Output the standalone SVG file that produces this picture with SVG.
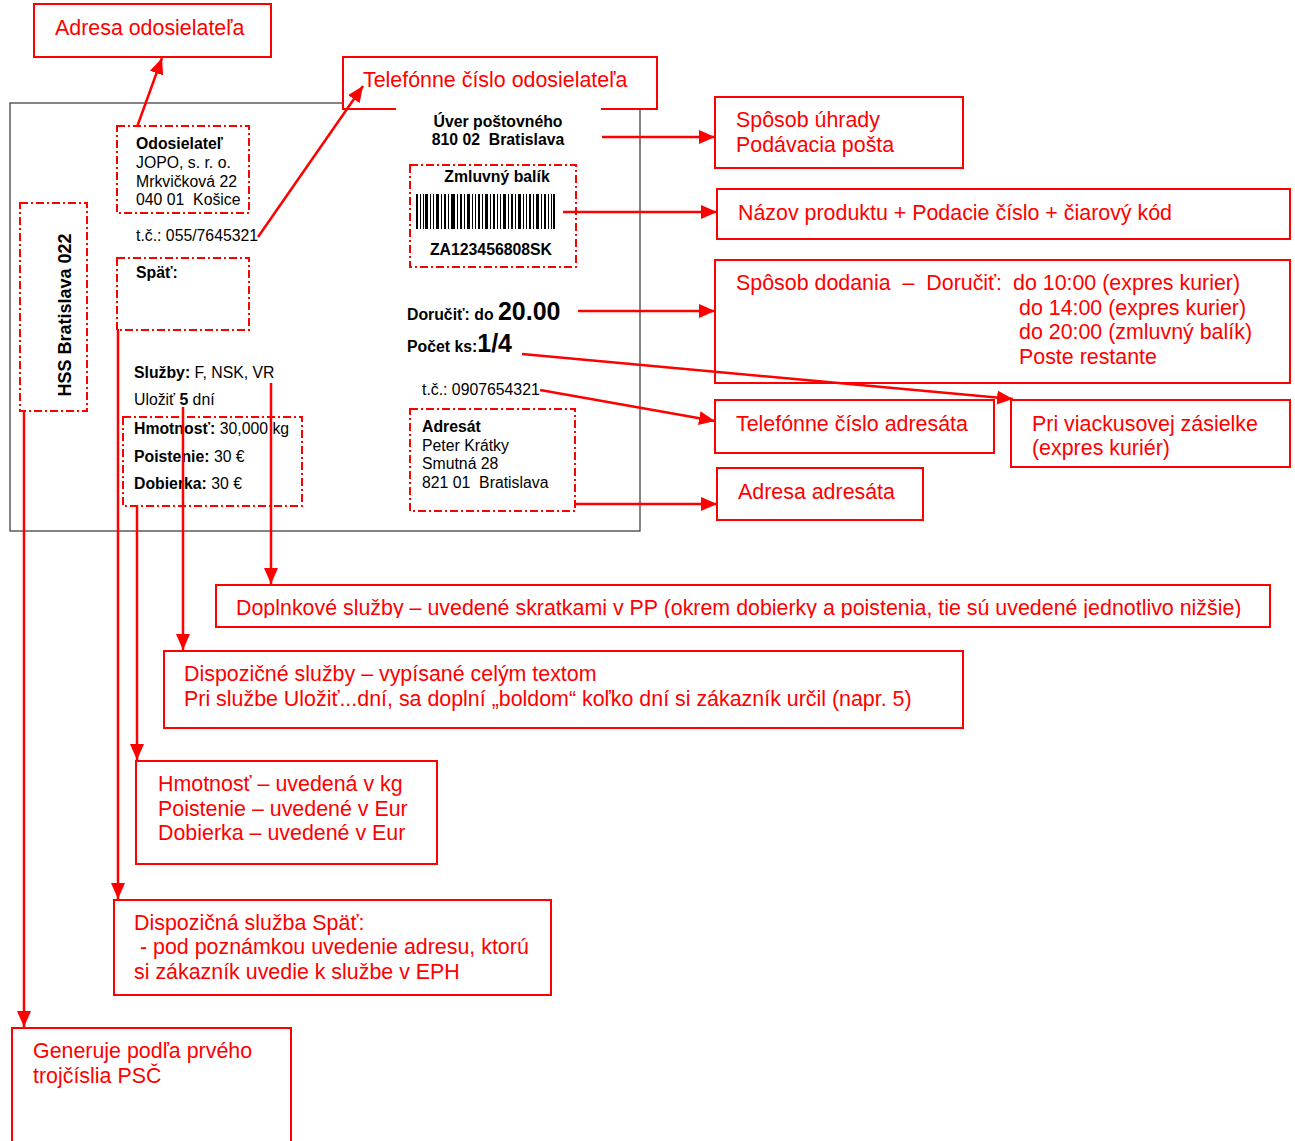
<svg xmlns="http://www.w3.org/2000/svg" width="1295" height="1141" viewBox="0 0 1295 1141">
<style>
.ann{fill:#fff;stroke:#ff0000;stroke-width:2}
.at{font-family:"Liberation Sans",Arial,sans-serif;font-size:21.4px;fill:#ff0000}
.dd{fill:none;stroke:#ff0000;stroke-width:2;stroke-dasharray:8 3 2 3}
.lt{font-family:"Liberation Sans",Arial,sans-serif;font-size:15.8px;fill:#000}
.b{font-weight:bold}
.big{font-size:25px}
.con{fill:none;stroke:#ff0000;stroke-width:2.5}
</style>
<defs>
<marker id="ah" markerWidth="16" markerHeight="14" refX="16" refY="7" orient="auto" markerUnits="userSpaceOnUse"><path d="M0,0 L16,7 L0,14 z" fill="#ff0000"/></marker>
<clipPath id="clipDop"><rect x="216" y="585" width="1054" height="33"/></clipPath>
</defs>
<rect width="1295" height="1141" fill="#fff"/>
<g id="label">
<rect x="10" y="103" width="630" height="428" fill="#fff" stroke="#333" stroke-width="1.2"/>
</g>
<g id="n-adresa-odosielatela"><rect class="ann" x="34" y="4" width="237" height="53"/><text class="at" x="55" y="35">Adresa odosielateľa</text></g>
<g id="n-telefon-odosielatela"><rect class="ann" x="343" y="57" width="314" height="52"/><text class="at" x="363" y="87">Telefónne číslo odosielateľa</text></g>
<rect x="396" y="103" width="205" height="14" fill="#fff"/>
<g id="n-sposob-uhrady"><rect class="ann" x="715" y="97" width="248" height="71"/><text class="at" x="736" y="127">Spôsob úhrady</text><text class="at" x="736" y="152">Podávacia pošta</text></g>
<g id="n-nazov-produktu"><rect class="ann" x="717" y="189" width="573" height="50"/><text class="at" x="738" y="220">Názov produktu + Podacie číslo + čiarový kód</text></g>
<g id="n-sposob-dodania"><rect class="ann" x="715" y="260" width="575" height="123"/><text class="at" x="736" y="290" xml:space="preserve">Spôsob dodania  –  Doručiť:</text><text class="at" x="1013" y="290">do 10:00 (expres kurier)</text><text class="at" x="1019" y="315">do 14:00 (expres kurier)</text><text class="at" x="1019" y="339">do 20:00 (zmluvný balík)</text><text class="at" x="1019" y="364">Poste restante</text></g>
<g id="n-telefon-adresata"><rect class="ann" x="715" y="400" width="279" height="53"/><text class="at" x="736" y="431">Telefónne číslo adresáta</text></g>
<g id="n-viackusova"><rect class="ann" x="1011" y="400" width="279" height="67"/><text class="at" x="1032" y="431">Pri viackusovej zásielke</text><text class="at" x="1032" y="455">(expres kuriér)</text></g>
<g id="n-adresa-adresata"><rect class="ann" x="717" y="468" width="206" height="52"/><text class="at" x="738" y="499">Adresa adresáta</text></g>
<g id="n-doplnkove"><rect class="ann" x="216" y="585" width="1054" height="42"/><text class="at" x="236" y="615" clip-path="url(#clipDop)">Doplnkové služby – uvedené skratkami v PP (okrem dobierky a poistenia, tie sú uvedené jednotlivo nižšie)</text></g>
<g id="n-dispozicne"><rect class="ann" x="164" y="651" width="799" height="77"/><text class="at" x="184" y="681">Dispozičné služby – vypísané celým textom</text><text class="at" x="184" y="706">Pri službe Uložiť...dní, sa doplní „boldom“ koľko dní si zákazník určil (napr. 5)</text></g>
<g id="n-hmotnost"><rect class="ann" x="136" y="761" width="301" height="103"/><text class="at" x="158" y="791">Hmotnosť – uvedená v kg</text><text class="at" x="158" y="816">Poistenie – uvedené v Eur</text><text class="at" x="158" y="840">Dobierka – uvedené v Eur</text></g>
<g id="n-spat"><rect class="ann" x="114" y="900" width="437" height="95"/><text class="at" x="134" y="930">Dispozičná služba Späť:</text><text class="at" x="134" y="954" xml:space="preserve"> - pod poznámkou uvedenie adresu, ktorú</text><text class="at" x="134" y="979">si zákazník uvedie k službe v EPH</text></g>
<g id="n-generuje"><rect class="ann" x="12" y="1028" width="279" height="130"/><text class="at" x="33" y="1058">Generuje podľa prvého</text><text class="at" x="33" y="1083">trojčíslia PSČ</text></g>
<g id="label-content">
<g id="odosielatel"><rect class="dd" x="117" y="126" width="132" height="87"/><text class="lt b" x="136" y="149">Odosielateľ</text><text class="lt" x="136" y="168">JOPO, s. r. o.</text><text class="lt" x="136" y="187">Mrkvičková 22</text><text class="lt" x="136" y="205" xml:space="preserve">040 01  Košice</text></g>
<text class="lt" x="136" y="241">t.č.: 055/7645321</text>
<g id="spat-box"><rect class="dd" x="117" y="258" width="132" height="72"/><text class="lt b" x="136" y="278">Späť:</text></g>
<g id="hss"><rect class="dd" x="20" y="203" width="67" height="208"/><text class="lt b" style="font-size:18px" text-anchor="middle" transform="translate(71,315) rotate(-90)">HSS Bratislava 022</text></g>
<text class="lt" x="134" y="378"><tspan class="b">Služby:</tspan> F, NSK, VR</text>
<text class="lt" x="134" y="405">Uložiť <tspan class="b">5</tspan> dní</text>
<g id="hmotnost-box"><rect class="dd" x="123" y="417" width="179" height="89"/><text class="lt" x="134" y="434"><tspan class="b">Hmotnosť:</tspan> 30,000 kg</text><text class="lt" x="134" y="462"><tspan class="b">Poistenie:</tspan> 30 €</text><text class="lt" x="134" y="489"><tspan class="b">Dobierka:</tspan> 30 €</text></g>
<text class="lt b" x="498" y="127" text-anchor="middle">Úver poštovného</text>
<text class="lt b" x="498" y="145" text-anchor="middle" xml:space="preserve">810 02  Bratislava</text>
<g id="barcode-box"><rect class="dd" x="410" y="165" width="166" height="102"/><text class="lt b" x="497" y="182" text-anchor="middle">Zmluvný balík</text>
<path fill="#000" d="M416 194h2v35h-2zM420 194h1v35h-1zM423 194h1v35h-1zM425 194h3v35h-3zM430 194h1v35h-1zM433 194h1v35h-1zM436 194h3v35h-3zM441 194h1v35h-1zM444 194h2v35h-2zM448 194h1v35h-1zM451 194h4v35h-4zM457 194h1v35h-1zM460 194h2v35h-2zM464 194h1v35h-1zM467 194h3v35h-3zM472 194h1v35h-1zM475 194h1v35h-1zM478 194h2v35h-2zM482 194h1v35h-1zM485 194h3v35h-3zM490 194h1v35h-1zM493 194h2v35h-2zM497 194h1v35h-1zM500 194h1v35h-1zM503 194h3v35h-3zM508 194h1v35h-1zM511 194h2v35h-2zM515 194h1v35h-1zM518 194h3v35h-3zM523 194h1v35h-1zM526 194h1v35h-1zM529 194h2v35h-2zM533 194h1v35h-1zM536 194h3v35h-3zM541 194h1v35h-1zM544 194h2v35h-2zM548 194h1v35h-1zM551 194h1v35h-1zM553 194h2v35h-2z"/>
<text class="lt b" x="491" y="255" text-anchor="middle">ZA123456808SK</text></g>
<text class="lt b" x="407" y="320">Doručiť: do <tspan class="big">20.00</tspan></text>
<text class="lt b" x="407" y="352">Počet ks:<tspan class="big">1/4</tspan></text>
<text class="lt" x="422" y="395">t.č.: 0907654321</text>
<g id="adresat-box"><rect class="dd" x="410" y="409" width="165" height="102"/><text class="lt b" x="422" y="432">Adresát</text><text class="lt" x="422" y="451">Peter Krátky</text><text class="lt" x="422" y="469">Smutná 28</text><text class="lt" x="422" y="488" xml:space="preserve">821 01  Bratislava</text></g>
</g>
<g id="connectors">
<line class="con" x1="137" y1="127" x2="162" y2="58" marker-end="url(#ah)"/>
<line class="con" x1="258" y1="237" x2="363" y2="86" marker-end="url(#ah)"/>
<line class="con" x1="602" y1="137" x2="715" y2="137" marker-end="url(#ah)"/>
<line class="con" x1="563" y1="212" x2="717" y2="212" marker-end="url(#ah)"/>
<line class="con" x1="578" y1="311" x2="715" y2="311" marker-end="url(#ah)"/>
<line class="con" x1="522" y1="354" x2="1013" y2="399" marker-end="url(#ah)"/>
<line class="con" x1="540" y1="390" x2="715" y2="421" marker-end="url(#ah)"/>
<line class="con" x1="576" y1="504" x2="717" y2="504" marker-end="url(#ah)"/>
<line class="con" x1="271" y1="383" x2="271" y2="584" marker-end="url(#ah)"/>
<line class="con" x1="183" y1="407" x2="183" y2="650" marker-end="url(#ah)"/>
<line class="con" x1="137" y1="505" x2="137" y2="760" marker-end="url(#ah)"/>
<line class="con" x1="118" y1="329" x2="118" y2="899" marker-end="url(#ah)"/>
<line class="con" x1="24" y1="411" x2="24" y2="1027" marker-end="url(#ah)"/>
</g>
</svg>
